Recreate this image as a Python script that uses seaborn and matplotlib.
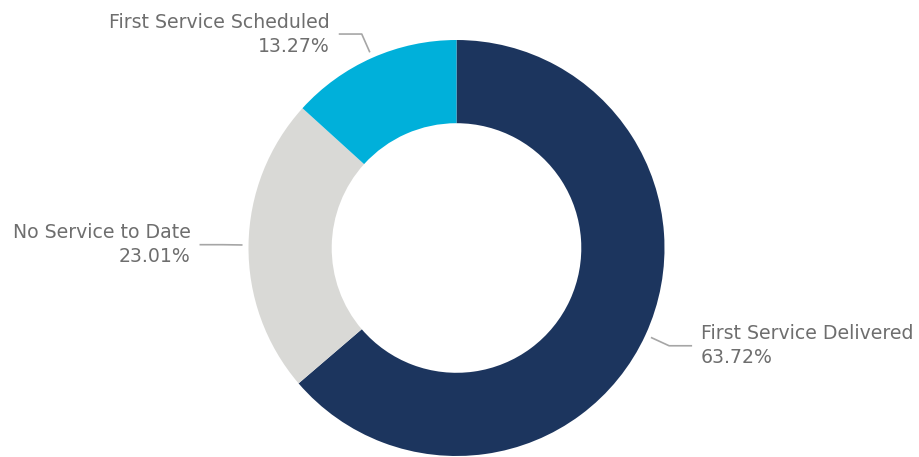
import numpy as np
import matplotlib
matplotlib.use('Agg')
import matplotlib.pyplot as plt
import seaborn as sns

# data
labels = ['First Service Delivered', 'No Service to Date', 'First Service Scheduled']
shares = [63.72, 23.01, 13.27]
colors = ['#1C355E', '#D9D9D6', '#00B0DA']

def main():
    sns.set_theme(style='white')
    plt.rcParams['font.family'] = ['DejaVu Sans']

    W, H = 919, 457
    fig = plt.figure(figsize=(W / 100, H / 100), dpi=100)
    ax = fig.add_axes([0, 0, 1, 1])

    cx, cy, R = 456.5, 209, 208
    wedges, _ = ax.pie(shares, colors=colors, startangle=90, counterclock=False,
                       center=(cx, cy), radius=R, frame=True,
                       wedgeprops=dict(width=R * 0.4, edgecolor='none'))
    ax.set_xlim(0, W)
    ax.set_ylim(0, H)
    ax.set_aspect('equal')
    ax.axis('off')

    txt_col = '#6E6E6E'
    line_col = '#A6A6A6'
    for w, lab, val in zip(wedges, labels, shares):
        ang = np.deg2rad((w.theta1 + w.theta2) / 2)
        x0, y0 = cx + 214 * np.cos(ang), cy + 214 * np.sin(ang)
        x1, y1 = cx + 234 * np.cos(ang), cy + 234 * np.sin(ang)
        side = 1 if np.cos(ang) > 0 else -1
        x2 = x1 + side * 23
        ax.plot([x0, x1, x2], [y0, y1, y1], color=line_col, lw=1.2,
                solid_capstyle='butt')
        ha = 'left' if side > 0 else 'right'
        tx = x2 + side * 9
        ax.text(tx, y1 + 12, lab, ha=ha, va='center', fontsize=13.6, color=txt_col)
        ax.text(tx, y1 - 12, '%.2f%%' % val, ha=ha, va='center', fontsize=13.6,
                color=txt_col)

    fig.savefig('out.png', dpi=100, facecolor='white')

if __name__ == '__main__':
    main()
